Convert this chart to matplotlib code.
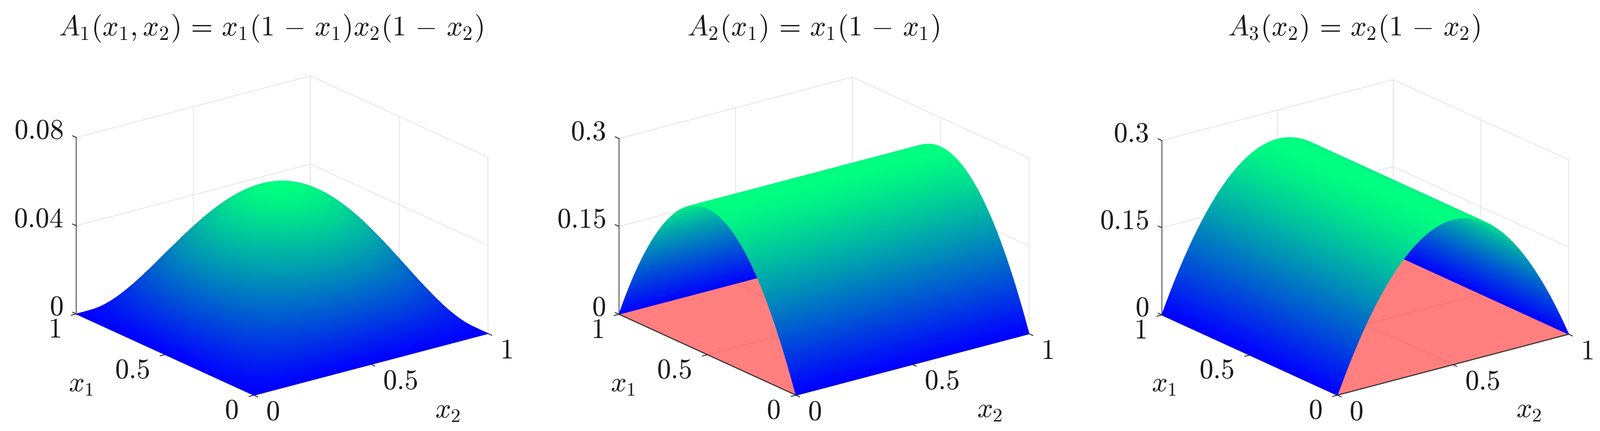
import numpy as np
import matplotlib
matplotlib.use("Agg")
import matplotlib.pyplot as plt
from matplotlib.transforms import Affine2D
from mpl_toolkits.mplot3d import proj3d

plt.rcParams["mathtext.fontset"] = "cm"
plt.rcParams["font.family"] = ["DejaVu Serif"]

W, H = 3528, 950

# sampled coordinate and rising half of the arch profile of panels 2 and 3
coord = [i / 200 for i in range(201)]
arch_rising = [0, .004975, .0099, .014775, .0196, .024375, .0291, .033775, .0384, .042975,
               .0475, .051975, .0564, .060775, .0651, .069375, .0736, .077775, .0819, .085975,
               .09, .093975, .0979, .101775, .1056, .109375, .1131, .116775, .1204, .123975,
               .1275, .130975, .1344, .137775, .1411, .144375, .1476, .150775, .1539, .156975,
               .16, .162975, .1659, .168775, .1716, .174375, .1771, .179775, .1824, .184975,
               .1875, .189975, .1924, .194775, .1971, .199375, .2016, .203775, .2059, .207975,
               .21, .211975, .2139, .215775, .2176, .219375, .2211, .222775, .2244, .225975,
               .2275, .228975, .2304, .231775, .2331, .234375, .2356, .236775, .2379, .238975,
               .24, .240975, .2419, .242775, .2436, .244375, .2451, .245775, .2464, .246975,
               .2475, .247975, .2484, .248775, .2491, .249375, .2496, .249775, .2499, .249975,
               .25]
arch = arch_rising + arch_rising[-2::-1]

titles = [r"$A_1(x_1,x_2)\,=\,x_1(1\,-\,x_1)x_2(1\,-\,x_2)$",
          r"$A_2(x_1)\,=\,x_1(1\,-\,x_1)$",
          r"$A_3(x_2)\,=\,x_2(1\,-\,x_2)$"]
zmax = [0.08, 0.3, 0.3]
zticks = [[0, 0.04, 0.08], [0, 0.15, 0.3], [0, 0.15, 0.3]]
zticklabels = [["$0$", "$0.04$", "$0.08$"], ["$0$", "$0.15$", "$0.3$"], ["$0$", "$0.15$", "$0.3$"]]
xyticks = [0, 0.5, 1]
xyticklabels = ["$0$", "$0.5$", "$1$"]
x1_label = "$x_1$"
x2_label = "$x_2$"

a = np.array(arch)
x2g, x1g = np.meshgrid(coord, coord)   # x2g = mpl x, x1g = mpl y
surfaces = [np.outer(a, a),
            np.tile(a[:, None], (1, a.size)),
            np.tile(a[None, :], (a.size, 1))]
show_floor = [False, True, True]
counts = [(201, 201), (201, 21), (21, 201)]

# layout: pixel targets (image coordinates)
front_px = [(560, 871), (1755, 871), (2949, 871)]
right_px = [(1076, 735), (2269, 735), (3459, 735)]
title_px = [(597, 62), (1793, 62), (2985, 62)]
x1_label_px = [(178, 846), (1373, 846), (2566, 846)]
x2_label_px = [(987, 904), (2182, 903), (3371, 903)]

fig = plt.figure(figsize=(W / 100, H / 100), dpi=100, facecolor="white")


def px(ax, x, y, z):
    X, Y, _ = proj3d.proj_transform(x, y, z, ax.get_proj())
    return ax.transData.transform((X, Y))


DARK = "#333333"
LIGHT = "#e3e3e3"
TEXT = "#1a1a1a"
FS = 44

for i in range(3):
    S = 950
    ax = fig.add_axes([0.1, 0.0, S / W, S / H], projection="3d", computed_zorder=False)
    ax.set_proj_type("ortho")
    ax.view_init(elev=20.3, azim=-127.2)
    ax.set_xlim(0, 1, view_margin=0)
    ax.set_ylim(0, 1, view_margin=0)
    ax.set_zlim(0, zmax[i], view_margin=0)
    ax.patch.set_alpha(0)

    ax.set_box_aspect((1, 1, 0.64), zoom=1.0)
    ax.apply_aspect()
    span = px(ax, 1, 0, 0)[0] - px(ax, 0, 0, 0)[0]
    want = right_px[i][0] - front_px[i][0]
    ax.set_box_aspect((1, 1, 0.64), zoom=want / span)
    ax.apply_aspect()
    p = px(ax, 0, 0, 0)
    dx = front_px[i][0] - p[0]
    dy = (H - front_px[i][1]) - p[1]
    pos = ax.get_position()
    ax.set_position([pos.x0 + dx / W, pos.y0 + dy / H, pos.width, pos.height])

    if show_floor[i]:
        ax.plot_surface(np.array([[0, 1], [0, 1]]), np.array([[0, 0], [1, 1]]),
                        np.zeros((2, 2)), color=(1, 0, 0, 0.5), shade=False,
                        linewidth=0, antialiased=False, zorder=1)
        ax.plot([0, 1], [0, 0], [0, 0], color=DARK, lw=1.5, zorder=1.5)
        ax.plot([0, 0], [0, 1], [0, 0], color=DARK, lw=1.5, zorder=1.5)

    Z = surfaces[i]
    cols = plt.get_cmap("winter")(Z / Z.max())
    ax.plot_surface(x2g, x1g, Z, facecolors=cols, rcount=counts[i][0], ccount=counts[i][1],
                    shade=False, linewidth=1.0, antialiased=True, zorder=2)

    ax.set_xticks(xyticks, xyticklabels)
    ax.set_yticks(xyticks, xyticklabels)
    ax.set_zticks(zticks[i], zticklabels[i])
    ax.zaxis._get_tickdir = lambda position: 1   # z ticks run along the x1 direction
    ax.tick_params(axis="both", labelsize=FS, labelcolor=TEXT, color=DARK, width=1.5)
    ax.tick_params(axis="x", pad=16)
    ax.tick_params(axis="y", pad=16)
    ax.tick_params(axis="z", pad=6)
    for t in ax.xaxis.get_major_ticks():
        t.label1.set_ha("left")
        t.label1.set_va("center")
    for t in ax.yaxis.get_major_ticks():
        t.label1.set_ha("right")
        t.label1.set_va("center")
    z_offset = ax.transData + Affine2D().translate(6, 12)
    for t in ax.zaxis.get_major_ticks():
        t.label1.set_ha("right")
        t.label1.set_va("center")
        t.label1.get_transform = lambda tr=z_offset: tr

    ax.text2D(x1_label_px[i][0] / W, 1 - x1_label_px[i][1] / H, x1_label, transform=fig.transFigure,
              fontsize=FS, ha="center", va="center", color=TEXT)
    ax.text2D(x2_label_px[i][0] / W, 1 - x2_label_px[i][1] / H, x2_label, transform=fig.transFigure,
              fontsize=FS, ha="center", va="center", color=TEXT)

    for axis, out in ((ax.xaxis, -0.26), (ax.yaxis, -0.26), (ax.zaxis, 0.26)):
        axis.set_pane_color((1, 1, 1, 0))
        axis.pane.set_edgecolor(LIGHT)
        axis.pane.set_linewidth(1.2)
        axis.line.set_color(DARK)
        axis.line.set_linewidth(1.5)
        axis._axinfo["grid"].update(color=LIGHT, linewidth=1.2)
        axis._axinfo["tick"].update(inward_factor=0.0, outward_factor=out,
                                    linewidth={True: 1.5, False: 1.0})
    ax.zaxis.line.set_color("#555555")

    ax.set_title(titles[i], fontsize=FS + 0.8, x=title_px[i][0] / W, y=1.0,
                 transform=fig.transFigure, va="center", ha="center", color=TEXT)
    ax.title.set_y(1 - title_px[i][1] / H)

fig.savefig("out.png", dpi=100)
